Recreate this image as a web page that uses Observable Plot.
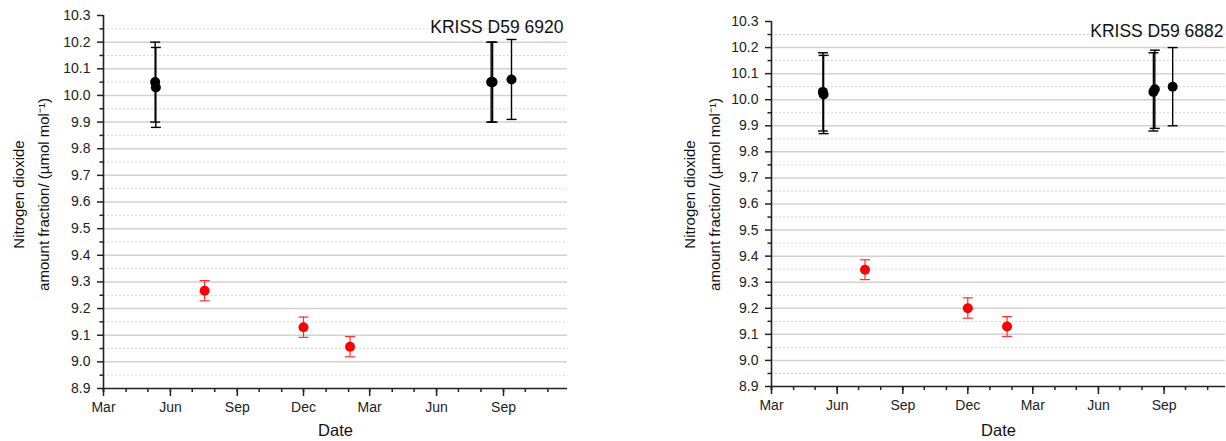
<!DOCTYPE html>
<html><head><meta charset="utf-8">
<script src="https://cdn.jsdelivr.net/npm/d3@7"></script>
<script src="https://cdn.jsdelivr.net/npm/@observablehq/plot@0.6"></script>
<style>
body{margin:0;background:#fff;}
#wrap{position:relative;width:1226px;height:441px;overflow:hidden;}
#wrap > div{position:absolute;top:0;}
</style>
</head><body>
<div id="wrap"><div id="a" style="left:0"></div><div id="b" style="left:613px"></div></div>
<script>
// ---- shared axis data ----
const yTickLabels = [8.9, 9.0, 9.1, 9.2, 9.3, 9.4, 9.5, 9.6, 9.7, 9.8, 9.9, 10.0, 10.1, 10.2, 10.3];
const monthTicks = ["2019-03-01","2019-06-01","2019-09-01","2019-12-01","2020-03-01","2020-06-01","2020-09-01"];
const monthLabels = ["Mar","Jun","Sep","Dec","Mar","Jun","Sep"];
const yLabel1 = "Nitrogen dioxide";
const yLabel2 = "amount fraction/ (\u00b5mol mol\u207b\u00b9)";
const xLabel = "Date";

// ---- panel 1: KRISS D59 6920 ----
const p1Title = "KRISS D59 6920";
const p1RefDates  = ["2019-05-11","2019-05-12","2020-08-15","2020-08-17","2020-09-12"];
const p1RefValues = [10.05, 10.03, 10.05, 10.05, 10.06];
const p1RefLow    = [9.90, 9.88, 9.90, 9.90, 9.91];
const p1RefHigh   = [10.20, 10.18, 10.20, 10.20, 10.21];
const p1MeasDates  = ["2019-07-18","2019-12-01","2020-02-03"];
const p1MeasValues = [9.267, 9.130, 9.057];
const p1MeasLow    = [9.229, 9.092, 9.019];
const p1MeasHigh   = [9.305, 9.168, 9.095];
const p1Domain = ["2019-03-01","2020-11-28"];

// ---- panel 2: KRISS D59 6882 ----
const p2Title = "KRISS D59 6882";
const p2RefDates  = ["2019-05-12","2019-05-13","2020-08-17","2020-08-19","2020-09-13"];
const p2RefValues = [10.03, 10.02, 10.03, 10.04, 10.05];
const p2RefLow    = [9.88, 9.87, 9.88, 9.89, 9.90];
const p2RefHigh   = [10.18, 10.17, 10.18, 10.19, 10.20];
const p2MeasDates  = ["2019-07-10","2019-12-01","2020-01-25"];
const p2MeasValues = [9.348, 9.200, 9.130];
const p2MeasLow    = [9.310, 9.162, 9.092];
const p2MeasHigh   = [9.386, 9.240, 9.168];
const p2Domain = ["2019-03-01","2020-11-26"];

const toRows = (dates, v, lo, hi) => dates.map((d, i) => ({date: new Date(d), value: v[i], lo: lo[i], hi: hi[i]}));

const capSymbol = {draw(ctx, size) { const w = Math.sqrt(size / Math.PI); ctx.moveTo(-w, 0); ctx.lineTo(w, 0); }};

const majorGrid = yTickLabels.slice(1, -1);
const minorY = yTickLabels.slice(0, -1).map(v => +(v + 0.05).toFixed(2));
const labelFor = new Map(monthTicks.map((t, i) => [+new Date(t), monthLabels[i]]));

function panel(cfg) {
  const ref = toRows(cfg.refDates, cfg.refValues, cfg.refLow, cfg.refHigh);
  const meas = toRows(cfg.measDates, cfg.measValues, cfg.measLow, cfg.measHigh);
  const dom = cfg.domain.map(d => new Date(d));
  const allMonths = d3.utcMonths(dom[0], dom[1]).concat([]);
  allMonths.unshift(dom[0]);
  const ticks = monthTicks.map(t => new Date(t));
  return Plot.plot({
    width: cfg.width, height: 441,
    marginLeft: cfg.ml, marginRight: cfg.mr, marginTop: cfg.mt, marginBottom: cfg.mb,
    style: {fontFamily: "'Liberation Sans', Arial, sans-serif", fontSize: "14px", color: "#222", background: "white", overflow: "visible"},
    x: {type: "utc", domain: dom},
    y: {domain: [yTickLabels[0], yTickLabels[yTickLabels.length - 1]]},
    marks: [
      Plot.ruleY(minorY, {stroke: "#d6d6d6", strokeWidth: 1, strokeDasharray: "2,2"}),
      Plot.ruleY(majorGrid, {stroke: "#d2d2d2", strokeWidth: 1.5}),
      Plot.ruleY([yTickLabels[0]], {stroke: "#222", strokeWidth: 1.6}),
      Plot.ruleX([dom[0]], {stroke: "#222", strokeWidth: 1.6}),
      Plot.axisY(yTickLabels, {tickSize: 6, tickPadding: 7, tickFormat: d3.format(".1f"), label: null, stroke: "#222", strokeWidth: 1.5, fontSize: cfg.tickFont}),
      Plot.axisY(minorY, {tickSize: 3.5, fill: "none", label: null, stroke: "#222", strokeWidth: 1.5}),
      Plot.axisX(ticks, {tickSize: 8, tickPadding: 6, tickFormat: d => labelFor.get(+d), label: null, stroke: "#222", strokeWidth: 1.5, fontSize: cfg.tickFont}),
      Plot.axisX(allMonths, {tickSize: 4, fill: "none", label: null, stroke: "#222", strokeWidth: 1.5}),
      // reference values (black)
      Plot.ruleX(ref, {x: "date", y1: "lo", y2: "hi", stroke: "#000", strokeWidth: 1.4}),
      Plot.dot(ref, {x: "date", y: "lo", symbol: capSymbol, r: 5, stroke: "#000", fill: "none", strokeWidth: 1.4}),
      Plot.dot(ref, {x: "date", y: "hi", symbol: capSymbol, r: 5, stroke: "#000", fill: "none", strokeWidth: 1.4}),
      Plot.dot(ref, {x: "date", y: "value", r: 5, fill: "#000", stroke: "none"}),
      // measurements (red)
      Plot.ruleX(meas, {x: "date", y1: "lo", y2: "hi", stroke: "#ff3030", strokeWidth: 1.2}),
      Plot.dot(meas, {x: "date", y: "lo", symbol: capSymbol, r: 5, stroke: "#ff3030", fill: "none", strokeWidth: 1.2}),
      Plot.dot(meas, {x: "date", y: "hi", symbol: capSymbol, r: 5, stroke: "#ff3030", fill: "none", strokeWidth: 1.2}),
      Plot.dot(meas, {x: "date", y: "value", r: 5, fill: "#ff0000", stroke: "none"}),
      // texts
      Plot.text([cfg.title], {frameAnchor: "top-right", textAnchor: "end", lineAnchor: "middle", dx: cfg.titleDx, dy: cfg.titleDy, fontSize: 17.5, fill: "#111"}),
      Plot.text([yLabel1], {frameAnchor: "left", rotate: -90, lineAnchor: "middle", textAnchor: "middle", dx: cfg.yl1dx, dy: cfg.yldy, fontSize: 15, fill: "#111"}),
      Plot.text([yLabel2], {frameAnchor: "left", rotate: -90, lineAnchor: "middle", textAnchor: "middle", dx: cfg.yl2dx, dy: cfg.yldy, fontSize: 15, fill: "#111"}),
      Plot.text([xLabel], {frameAnchor: "bottom", lineAnchor: "middle", dy: cfg.xldy, fontSize: 16.5, fill: "#111"})
    ]
  });
}

document.getElementById("a").append(panel({
  title: p1Title, refDates: p1RefDates, refValues: p1RefValues, refLow: p1RefLow, refHigh: p1RefHigh,
  measDates: p1MeasDates, measValues: p1MeasValues, measLow: p1MeasLow, measHigh: p1MeasHigh, domain: p1Domain,
  width: 613, ml: 103, mr: 46, mt: 15, mb: 53, tickFont: "14px",
  titleDx: -4, titleDy: 12, yl1dx: -84, yl2dx: -59, yldy: -7.5, xldy: 42.5
}));
document.getElementById("b").append(panel({
  title: p2Title, refDates: p2RefDates, refValues: p2RefValues, refLow: p2RefLow, refHigh: p2RefHigh,
  measDates: p2MeasDates, measValues: p2MeasValues, measLow: p2MeasLow, measHigh: p2MeasHigh, domain: p2Domain,
  width: 613, ml: 158, mr: 1, mt: 21, mb: 55, tickFont: "14px",
  titleDx: -2, titleDy: 10, yl1dx: -81, yl2dx: -56, yldy: -9.5, xldy: 44
}));
</script>
</body></html>
